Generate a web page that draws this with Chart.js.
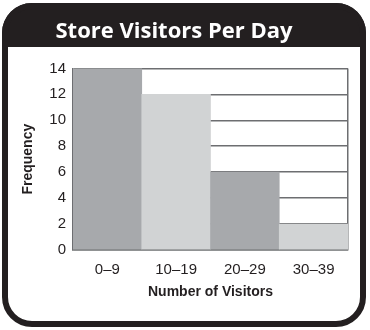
<!DOCTYPE html>
<html>
<head>
<meta charset="utf-8">
<script src="https://cdn.jsdelivr.net/npm/chart.js@4/dist/chart.umd.min.js"></script>
<style>
  html, body { margin: 0; padding: 0; background: #fff; }
  #wrap { width: 370px; height: 330px; }
</style>
</head>
<body>
<div id="wrap"><canvas id="c" width="370" height="330"></canvas></div>
<script>
const chartTitle = 'Store Visitors Per Day';
const categories = ['0–9', '10–19', '20–29', '30–39'];
const frequencies = [14, 12, 6, 2];
const yTickValues = [0, 2, 4, 6, 8, 10, 12, 14];
const xAxisTitle = 'Number of Visitors';
const yAxisTitle = 'Frequency';

const INK = '#231f20';
const GRID = '#6d6e71';
const DARK = '#a7a9ac';
const LIGHT = '#d1d3d4';
const SANS = "'Liberation Sans', Arial, sans-serif";

const framePlugin = {
  id: 'frame',
  beforeDraw(chart) {
    const ctx = chart.ctx;
    ctx.save();
    ctx.fillStyle = '#fff';
    ctx.fillRect(0, 0, chart.width, chart.height);
    ctx.fillStyle = INK;
    ctx.beginPath();
    ctx.roundRect(2, 3, 364, 44, [30, 30, 0, 0]);
    ctx.fill();
    ctx.lineWidth = 6;
    ctx.strokeStyle = INK;
    ctx.beginPath();
    ctx.roundRect(5, 6, 358, 318, 27);
    ctx.stroke();
    ctx.restore();
  }
};

new Chart(document.getElementById('c'), {
  type: 'bar',
  data: {
    labels: categories,
    datasets: [{
      data: frequencies,
      backgroundColor: [DARK, LIGHT, DARK, LIGHT],
      borderWidth: 0,
      barPercentage: 1,
      categoryPercentage: 1
    }]
  },
  options: {
    responsive: false,
    animation: false,
    layout: { padding: { left: 0, right: 22, top: 0, bottom: 0 } },
    plugins: {
      legend: { display: false },
      tooltip: { enabled: false },
      title: {
        display: true,
        text: chartTitle,
        color: '#ffffff',
        font: { family: "'Open Sans', sans-serif", size: 22, weight: 'bold', lineHeight: 1.2 },
        padding: { top: 19, bottom: 23 }
      }
    },
    scales: {
      x: {
        grid: {
          display: true,
          drawTicks: false,
          offset: true,
          lineWidth: 1.5,
          color: (c) => (c.type === 'scale' ? GRID : 'rgba(0,0,0,0)')
        },
        border: { display: true, color: GRID, width: 1.5 },
        ticks: { color: INK, padding: 11, font: { family: SANS, size: 15 } },
        title: {
          display: true,
          text: xAxisTitle,
          color: INK,
          font: { family: SANS, size: 14, weight: 'bold', lineHeight: 1.2 },
          padding: { top: 4, bottom: 29 }
        },
        afterFit: (s) => { s.height = 80; }
      },
      y: {
        min: 0,
        max: 14,
        afterBuildTicks: (s) => { s.ticks = yTickValues.map(v => ({ value: v })); },
        grid: { color: GRID, lineWidth: 1.5, drawTicks: false },
        border: { display: true, color: GRID, width: 1.5 },
        ticks: { color: INK, padding: 7, font: { family: SANS, size: 15 } },
        title: {
          display: true,
          text: yAxisTitle,
          color: INK,
          font: { family: SANS, size: 14, weight: 'bold', lineHeight: 1.2 },
          padding: { top: 20, bottom: 0 }
        },
        afterFit: (s) => { s.width = 73; }
      }
    }
  },
  plugins: [framePlugin]
});
</script>
</body>
</html>
